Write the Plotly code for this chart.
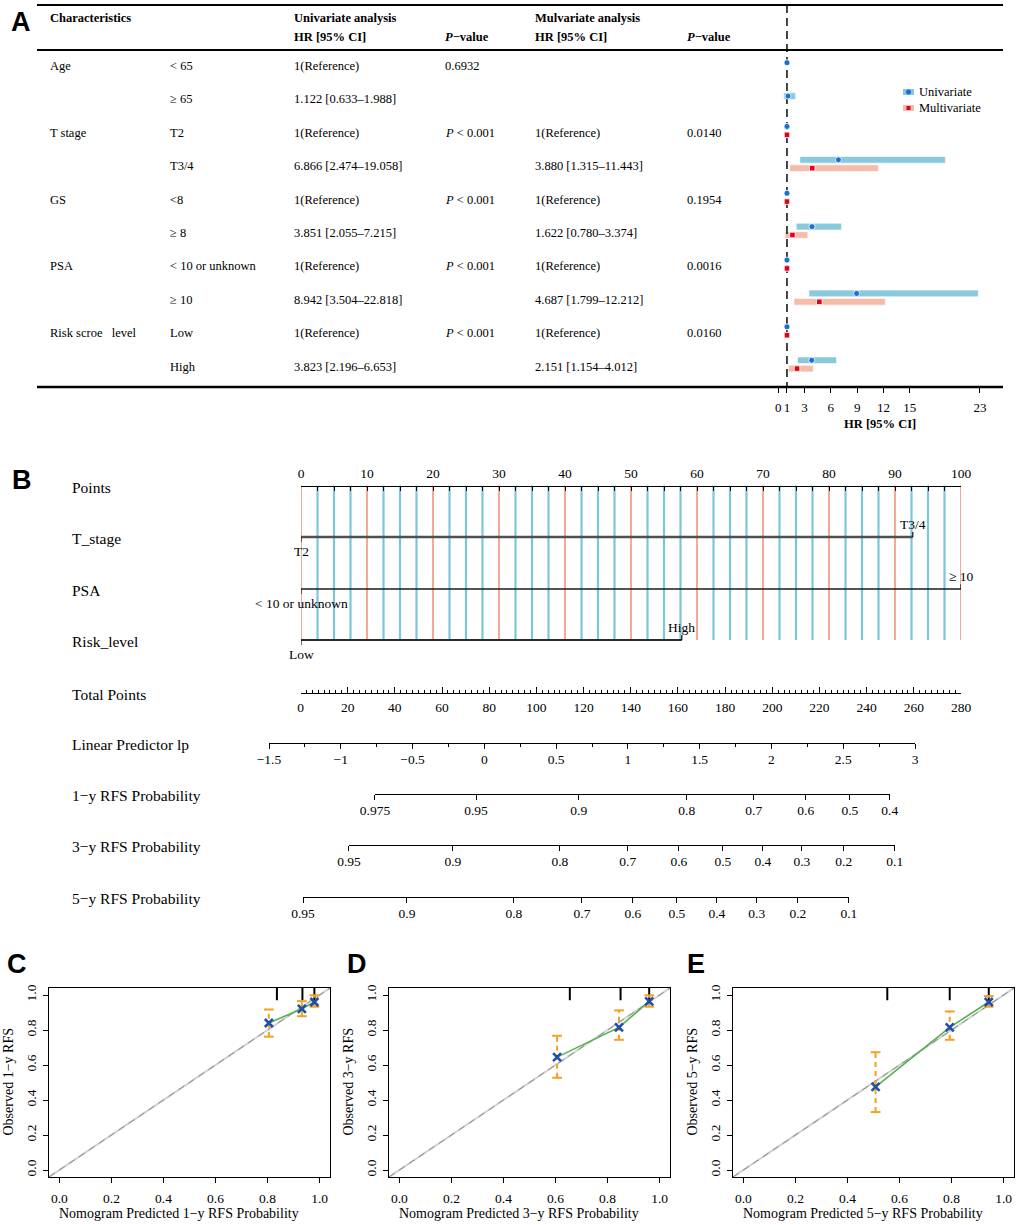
import numpy as np
import plotly.graph_objects as go

W, H = 1020, 1225
SERIF = "Liberation Serif"
SANS = "Liberation Sans"


def fx(px):
    return px / W


def fy(py):
    return 1 - py / H


# ---------------- Panel A data ----------------
char_labels = ["Age", "", "T stage", "", "GS", "", "PSA", "", "Risk scroe\u00a0\u00a0 level", ""]
sub_labels = ["< 65", "≥ 65", "T2", "T3/4", "<8", "≥ 8", "< 10 or unknown", "≥ 10", "Low", "High"]
uni_hr = [1, 1.122, 1, 6.866, 1, 3.851, 1, 8.942, 1, 3.823]
uni_lo = [1, 0.633, 1, 2.474, 1, 2.055, 1, 3.504, 1, 2.196]
uni_hi = [1, 1.988, 1, 19.058, 1, 7.215, 1, 22.818, 1, 6.653]
uni_p = ["0.6932", "", "P < 0.001", "", "P < 0.001", "", "P < 0.001", "", "P < 0.001", ""]
multi_hr = [None, None, 1, 3.880, 1, 1.622, 1, 4.687, 1, 2.151]
multi_lo = [None, None, 1, 1.315, 1, 0.780, 1, 1.799, 1, 1.154]
multi_hi = [None, None, 1, 11.443, 1, 3.374, 1, 12.212, 1, 4.012]
multi_p = ["", "", "0.0140", "", "0.1954", "", "0.0016", "", "0.0160", ""]
hr_ticks = [0, 1, 3, 6, 9, 12, 15, 23]

# ---------------- Panel B data ----------------
nomo_vars = ["T_stage", "PSA", "Risk_level"]
nomo_levels = [["T2", "T3/4"], ["< 10 or unknown", "≥ 10"], ["Low", "High"]]
nomo_points = [[0, 92.7], [0, 100], [0, 57.7]]
points_ticks = [0, 10, 20, 30, 40, 50, 60, 70, 80, 90, 100]
total_ticks = [0, 20, 40, 60, 80, 100, 120, 140, 160, 180, 200, 220, 240, 260, 280]
lp_ticks = [-1.5, -1, -0.5, 0, 0.5, 1, 1.5, 2, 2.5, 3]
prob1_labels = ["0.975", "0.95", "0.9", "0.8", "0.7", "0.6", "0.5", "0.4"]
prob1_lp = [-0.762, -0.058, 0.658, 1.410, 1.877, 2.239, 2.546, 2.824]
prob3_labels = ["0.95", "0.9", "0.8", "0.7", "0.6", "0.5", "0.4", "0.3", "0.2", "0.1"]
prob3_lp = [-0.943, -0.219, 0.526, 0.999, 1.355, 1.662, 1.940, 2.212, 2.504, 2.859]
prob5_labels = ["0.95", "0.9", "0.8", "0.7", "0.6", "0.5", "0.4", "0.3", "0.2", "0.1"]
prob5_lp = [-1.263, -0.539, 0.206, 0.680, 1.035, 1.341, 1.620, 1.898, 2.184, 2.539]

# ---------------- Panels C-E data ----------------
cal_pred_1y = [0.805, 0.932, 0.980]
cal_obs_1y = [0.840, 0.921, 0.960]
cal_lo_1y = [0.762, 0.879, 0.933]
cal_hi_1y = [0.917, 0.965, 0.998]
cal_rug_1y = [0.836, 0.934, 0.980]

cal_pred_3y = [0.606, 0.844, 0.960]
cal_obs_3y = [0.645, 0.815, 0.964]
cal_lo_3y = [0.527, 0.744, 0.933]
cal_hi_3y = [0.767, 0.912, 0.998]
cal_rug_3y = [0.655, 0.850, 0.960]

cal_pred_5y = [0.508, 0.793, 0.943]
cal_obs_5y = [0.475, 0.815, 0.960]
cal_lo_5y = [0.331, 0.744, 0.933]
cal_hi_5y = [0.673, 0.906, 0.994]
cal_rug_5y = [0.553, 0.793, 0.943]
cal_ticks = [0.0, 0.2, 0.4, 0.6, 0.8, 1.0]

# ---------------- colours ----------------
UNI_BAR, UNI_DOT = "#88C9DB", "#1A6FD6"
MUL_BAR, MUL_DOT = "#F5BCAB", "#E3001A"
GRID_RED, GRID_BLUE = "#F0856A", "#7CC6DA"
ORANGE, GREEN, XBLUE = "#F6A11E", "#55B24F", "#1F4FA8"

fig = go.Figure()
annotations = []
shapes = []
layout_axes = {}


def esc(s):
    return s.replace("<", "&lt;").replace(">", "&gt;")


def txt(x, y, s, size=12.5, xref="paper", yref="paper", xanchor="left", yanchor="middle",
        bold=False, family=SERIF, angle=0):
    annotations.append(dict(x=x, y=y, xref=xref, yref=yref, text=(f"<b>{s}</b>" if bold else s),
                            showarrow=False, xanchor=xanchor, yanchor=yanchor, textangle=angle,
                            font=dict(family=family, size=size, color="black")))


def hline(px0, px1, py, width, color="black"):
    shapes.append(dict(type="line", xref="paper", yref="paper", x0=fx(px0), x1=fx(px1),
                       y0=fy(py), y1=fy(py), line=dict(color=color, width=width)))


def segs(xs0, xs1, ys0, ys1):
    X, Y = [], []
    for a, b, c, d in zip(xs0, xs1, ys0, ys1):
        X += [a, b, None]
        Y += [c, d, None]
    return X, Y


# =============== Panel A : table + forest ===============
ROW0, ROWH = 66.0, 33.4
HR_PX0, HR_PXU = 778.2, 8.77
TAB_L, TAB_R, TAB_T, TAB_HD, TAB_B = 37, 1003, 5, 50, 387
FOR_L = 760


def row_of(py):
    return (py - ROW0) / ROWH


def hr_of(px):
    return (px - HR_PX0) / HR_PXU


hline(TAB_L, TAB_R, TAB_T, 2.2)
hline(TAB_L, TAB_R, TAB_HD, 2.0)
hline(TAB_L, TAB_R, TAB_B, 2.5)

COL = dict(char=48, sub=168, uni=292, unip=443, multi=533, multip=685)
txt(fx(COL["char"]), fy(18), "Characteristics", bold=True)
txt(fx(COL["uni"]), fy(18), "Univariate analysis", bold=True)
txt(fx(COL["uni"]), fy(37), "HR [95% CI]", bold=True)
txt(fx(COL["unip"]), fy(37), "<i>P</i>−value", bold=True)
txt(fx(COL["multi"]), fy(18), "Mulvariate analysis", bold=True)
txt(fx(COL["multi"]), fy(37), "HR [95% CI]", bold=True)
txt(fx(COL["multip"]), fy(37), "<i>P</i>−value", bold=True)


def hr_text(hr, lo, hi):
    if hr is None:
        return ""
    if lo == hi:
        return "1(Reference)"
    return f"{hr:.3f} [{lo:.3f}–{hi:.3f}]"


def p_text(p):
    s = esc(p)
    if s.startswith("P "):
        s = "<i>P</i>" + s[1:]
    return s


for i in range(len(sub_labels)):
    for key, s in [("char", esc(char_labels[i])), ("sub", esc(sub_labels[i])),
                   ("uni", hr_text(uni_hr[i], uni_lo[i], uni_hi[i])), ("unip", p_text(uni_p[i])),
                   ("multi", hr_text(multi_hr[i], multi_lo[i], multi_hi[i])),
                   ("multip", p_text(multi_p[i]))]:
        if s:
            txt(fx(COL[key]), i, s, yref="y")

# forest marks
has_multi = [m is not None for m in multi_hr]
uni_y = [i + (-0.19 if has_multi[i] else -0.1) for i in range(len(uni_hr))]
mul_y = [i + 0.06 for i in range(len(multi_hr))]

yr_bot, yr_top = row_of(TAB_B), row_of(TAB_T)
fig.add_trace(go.Scatter(x=[1, 1], y=[yr_top, yr_bot], mode="lines", xaxis="x", yaxis="y",
                         line=dict(color="#333333", width=1.8, dash="8px,5px"), hoverinfo="skip"))

ub = [i for i in range(len(uni_hr)) if uni_lo[i] != uni_hi[i]]
fig.add_trace(go.Bar(orientation="h", xaxis="x", yaxis="y", y=[uni_y[i] for i in ub],
                     base=[uni_lo[i] for i in ub], x=[uni_hi[i] - uni_lo[i] for i in ub],
                     width=0.2, marker=dict(color=UNI_BAR, line=dict(color="white", width=0.6))))
mb = [i for i in range(len(multi_hr)) if has_multi[i] and multi_lo[i] != multi_hi[i]]
fig.add_trace(go.Bar(orientation="h", xaxis="x", yaxis="y", y=[mul_y[i] for i in mb],
                     base=[multi_lo[i] for i in mb], x=[multi_hi[i] - multi_lo[i] for i in mb],
                     width=0.2, marker=dict(color=MUL_BAR, line=dict(color="white", width=0.6))))
fig.add_trace(go.Scatter(x=uni_hr, y=uni_y, mode="markers", xaxis="x", yaxis="y",
                         marker=dict(symbol="circle", size=6, color=UNI_DOT,
                                     line=dict(color="white", width=0.8))))
mi = [i for i in range(len(multi_hr)) if has_multi[i]]
fig.add_trace(go.Scatter(x=[multi_hr[i] for i in mi], y=[mul_y[i] for i in mi], mode="markers",
                         xaxis="x", yaxis="y",
                         marker=dict(symbol="square", size=5.5, color=MUL_DOT,
                                     line=dict(color="white", width=0.8))))

layout_axes["xaxis"] = dict(domain=[fx(FOR_L), fx(TAB_R)], range=[hr_of(FOR_L), hr_of(TAB_R)],
                            anchor="y", showline=False, ticks="outside", ticklen=5, tickwidth=1,
                            tickcolor="black", tickvals=hr_ticks, showgrid=False, zeroline=False,
                            ticklabelstandoff=3, automargin=False,
                            tickfont=dict(family=SERIF, size=13, color="black"))
layout_axes["yaxis"] = dict(domain=[fy(TAB_B), fy(TAB_T)], range=[yr_bot, yr_top], visible=False,
                            anchor="x", automargin=False)
txt(fx(880), fy(424), "HR [95% CI]", bold=True, xanchor="center")

# legend
shapes.append(dict(type="rect", xref="paper", yref="paper", x0=fx(903), x1=fx(914), y0=fy(95),
                   y1=fy(89), fillcolor=UNI_BAR, line=dict(width=0)))
shapes.append(dict(type="circle", xref="paper", yref="paper", x0=fx(906), x1=fx(911), y0=fy(94.5),
                   y1=fy(89.5), fillcolor=UNI_DOT, line=dict(width=0)))
shapes.append(dict(type="rect", xref="paper", yref="paper", x0=fx(903), x1=fx(914), y0=fy(111),
                   y1=fy(105), fillcolor=MUL_BAR, line=dict(width=0)))
shapes.append(dict(type="rect", xref="paper", yref="paper", x0=fx(906.5), x1=fx(910.5), y0=fy(110),
                   y1=fy(106), fillcolor=MUL_DOT, line=dict(width=0)))
txt(fx(917), fy(92), "Univariate", size=12.5)
txt(fx(917), fy(108), "Multivariate", size=12.5)

# =============== Panel B : nomogram ===============
NY0, NY1 = 465, 930
ROWY = dict(points=485.5, T_stage=537, PSA=589, Risk_level=640, total=693, lp=743,
            p1=794, p3=845, p5=897)
PT_PX0, PT_PX1 = 301, 961
TP_PX0, TP_PX1 = 300.5, 961
LP_PX0, LP_PX1 = 269, 915

layout_axes["yaxis2"] = dict(domain=[fy(NY1), fy(NY0)], range=[NY1, NY0], visible=False,
                             automargin=False)

TICKFONT = dict(family=SERIF, size=13.5, color="black")
NAX = dict(showline=True, linecolor="black", linewidth=1.1, tickcolor="black", tickwidth=1,
           showgrid=False, zeroline=False, anchor="free", tickfont=TICKFONT, automargin=False)

layout_axes["xaxis2"] = dict(NAX, domain=[fx(PT_PX0), fx(PT_PX1)], range=[0, 100],
                             position=fy(ROWY["points"]), side="top", ticks="inside", ticklen=4,
                             tickvals=points_ticks, ticklabelstandoff=2,
                             minor=dict(tick0=0, dtick=2.5, ticks="inside", ticklen=4,
                                        tickcolor="black"))
layout_axes["xaxis3"] = dict(NAX, domain=[fx(TP_PX0), fx(TP_PX1)], range=[0, 280],
                             position=fy(ROWY["total"]), side="bottom", ticks="inside", ticklen=6,
                             tickvals=total_ticks, ticklabelstandoff=2,
                             minor=dict(tick0=0, dtick=2.5, ticks="inside", ticklen=3,
                                        tickcolor="black"))
layout_axes["xaxis4"] = dict(NAX, domain=[fx(LP_PX0), fx(LP_PX1)], range=[-1.5, 3],
                             position=fy(ROWY["lp"]), side="bottom", ticks="outside", ticklen=5,
                             tickvals=lp_ticks, ticklabelstandoff=-1,
                             minor=dict(tick0=0, dtick=0.25, ticks="outside", ticklen=3,
                                        tickcolor="black"))


def lp_px(v):
    return LP_PX0 + (v - (-1.5)) / 4.5 * (LP_PX1 - LP_PX0)


for ax, key, labs, pos in [("xaxis5", "p1", prob1_labels, prob1_lp),
                           ("xaxis6", "p3", prob3_labels, prob3_lp),
                           ("xaxis7", "p5", prob5_labels, prob5_lp)]:
    layout_axes[ax] = dict(NAX, domain=[fx(lp_px(pos[0])), fx(lp_px(pos[-1]))],
                           range=[pos[0] - 1e-6, pos[-1] + 1e-6], position=fy(ROWY[key]),
                           side="bottom", ticks="outside", ticklen=5, tickvals=pos, ticktext=labs,
                           ticklabelstandoff=-1)
    fig.add_trace(go.Scatter(x=[pos[0]], y=[ROWY[key]], xaxis=ax.replace("axis", ""), yaxis="y2",
                             mode="markers", marker=dict(size=1, opacity=0), hoverinfo="skip"))

for ax, rng in [("x3", 0), ("x4", 0)]:
    fig.add_trace(go.Scatter(x=[rng], y=[ROWY["total"]], xaxis=ax, yaxis="y2", mode="markers",
                             marker=dict(size=1, opacity=0), hoverinfo="skip"))

# vertical reference lines of the points scale
grid_pts = np.arange(0, 100 + 1e-9, 2.5)
red_pts = [p for p in grid_pts if abs(p / 10 - round(p / 10)) < 1e-9]
blue_pts = [p for p in grid_pts if p not in red_pts]
gy0, gy1 = ROWY["points"], ROWY["Risk_level"]
X, Y = segs(blue_pts, blue_pts, [gy0] * len(blue_pts), [gy1] * len(blue_pts))
fig.add_trace(go.Scatter(x=X, y=Y, mode="lines", xaxis="x2", yaxis="y2",
                         line=dict(color=GRID_BLUE, width=2.2), hoverinfo="skip"))
X, Y = segs(red_pts, red_pts, [gy0] * len(red_pts), [gy1] * len(red_pts))
fig.add_trace(go.Scatter(x=X, y=Y, mode="lines", xaxis="x2", yaxis="y2",
                         line=dict(color=GRID_RED, width=1.4), hoverinfo="skip"))

var_style = {"T_stage": ("#505050", 2.4), "PSA": ("#1a1a1a", 1.3), "Risk_level": ("#2a2a2a", 1.8)}
for name, levels, pts in zip(nomo_vars, nomo_levels, nomo_points):
    yr = ROWY[name]
    col, wd = var_style[name]
    fig.add_trace(go.Scatter(x=[min(pts), max(pts)], y=[yr, yr], mode="lines", xaxis="x2",
                             yaxis="y2", line=dict(color=col, width=wd), hoverinfo="skip"))
    X, Y = segs([pts[0], pts[-1]], [pts[0], pts[-1]], [yr, yr - 5], [yr + 5, yr])
    fig.add_trace(go.Scatter(x=X, y=Y, mode="lines", xaxis="x2", yaxis="y2",
                             line=dict(color="black", width=1.1), hoverinfo="skip"))
    txt(pts[0], yr + 14, esc(levels[0]), size=13.5, xref="x2", yref="y2", xanchor="center")
    txt(pts[-1], yr - 13, esc(levels[-1]), size=13.5, xref="x2", yref="y2", xanchor="center")

row_names = [("points", "Points"), ("T_stage", "T_stage"), ("PSA", "PSA"),
             ("Risk_level", "Risk_level"), ("total", "Total Points"),
             ("lp", "Linear Predictor lp"), ("p1", "1−y RFS Probability"),
             ("p3", "3−y RFS Probability"), ("p5", "5−y RFS Probability")]
for key, lab in row_names:
    txt(fx(70), fy(ROWY[key] + 1.5), lab, size=15.5)

# =============== Panels C-E : calibration ===============
CAL_RANGE = [-0.04, 1.04]
CAL_T, CAL_B = 988, 1177
cal_panels = [
    ("C", 49, 330, "1", cal_pred_1y, cal_obs_1y, cal_lo_1y, cal_hi_1y, cal_rug_1y),
    ("D", 389, 670, "3", cal_pred_3y, cal_obs_3y, cal_lo_3y, cal_hi_3y, cal_rug_3y),
    ("E", 733, 1014, "5", cal_pred_5y, cal_obs_5y, cal_lo_5y, cal_hi_5y, cal_rug_5y),
]
CAL_AX = dict(showline=True, mirror=True, linecolor="black", linewidth=1.2, ticks="outside",
              ticklen=5, tickcolor="black", tickwidth=1, tickvals=cal_ticks, tickformat=".1f",
              range=CAL_RANGE, showgrid=False, zeroline=False, automargin=False,
              tickfont=dict(family=SERIF, size=13.5, color="black"))
for k, (letter, L, R, yr, pred, obs, lo, hi, rug) in enumerate(cal_panels):
    xn, yn = 8 + k, 3 + k
    xa, ya = f"x{xn}", f"y{yn}"
    layout_axes[f"xaxis{xn}"] = dict(CAL_AX, domain=[fx(L), fx(R)], anchor=ya,
                                     ticklabelstandoff=4)
    layout_axes[f"yaxis{yn}"] = dict(CAL_AX, domain=[fy(CAL_B), fy(CAL_T)], anchor=xa,
                                     tickangle=-90, ticklabelstandoff=1)
    # ideal line
    fig.add_trace(go.Scatter(x=CAL_RANGE, y=CAL_RANGE, mode="lines", xaxis=xa, yaxis=ya,
                             line=dict(color="#d2d2d2", width=2), hoverinfo="skip"))
    fig.add_trace(go.Scatter(x=CAL_RANGE, y=CAL_RANGE, mode="lines", xaxis=xa, yaxis=ya,
                             line=dict(color="#8c8c8c", width=1, dash="7px,5px"), hoverinfo="skip"))
    # rug ticks at the top
    X, Y = segs(rug, rug, [CAL_RANGE[1]] * len(rug), [CAL_RANGE[1] - 0.07] * len(rug))
    fig.add_trace(go.Scatter(x=X, y=Y, mode="lines", xaxis=xa, yaxis=ya,
                             line=dict(color="black", width=2), hoverinfo="skip"))
    # error bars
    X, Y = segs(pred, pred, lo, hi)
    fig.add_trace(go.Scatter(x=X, y=Y, mode="lines", xaxis=xa, yaxis=ya,
                             line=dict(color=ORANGE, width=2, dash="5px,4px"), hoverinfo="skip"))
    fig.add_trace(go.Scatter(x=pred + pred, y=lo + hi, mode="markers", xaxis=xa, yaxis=ya,
                             marker=dict(symbol="line-ew", size=7,
                                         line=dict(color=ORANGE, width=2)), hoverinfo="skip"))
    # apparent line + points
    fig.add_trace(go.Scatter(x=pred, y=obs, mode="lines", xaxis=xa, yaxis=ya,
                             line=dict(color=GREEN, width=1.6), hoverinfo="skip"))
    fig.add_trace(go.Scatter(x=pred, y=obs, mode="markers", xaxis=xa, yaxis=ya,
                             marker=dict(symbol="x-thin", size=8,
                                         line=dict(color=XBLUE, width=2.6)), hoverinfo="skip"))
    # titles
    txt(fx((L + R) / 2 - 11), fy(1213), f"Nomogram Predicted {yr}−y RFS Probability", size=14,
        xanchor="center")
    txt(fx(L - 41), fy((CAL_T + CAL_B) / 2), f"Observed {yr}−y RFS", size=14, xanchor="center",
        angle=-90)

# panel letters
for letter, px, py in [("A", 21, 22), ("B", 22, 480), ("C", 17, 964), ("D", 357, 964),
                       ("E", 696, 964)]:
    txt(fx(px), fy(py), letter, size=27, bold=True, family=SANS, xanchor="center")

fig.update_layout(
    width=W, height=H, margin=dict(l=0, r=0, t=0, b=0, pad=0, autoexpand=False),
    paper_bgcolor="white", plot_bgcolor="rgba(0,0,0,0)", showlegend=False, barmode="overlay",
    hovermode=False, annotations=annotations, shapes=shapes, **layout_axes,
)
fig.write_html("out.html", config={"displayModeBar": False, "staticPlot": True},
               post_script="document.body.style.margin='0';document.body.style.overflow='hidden';")
